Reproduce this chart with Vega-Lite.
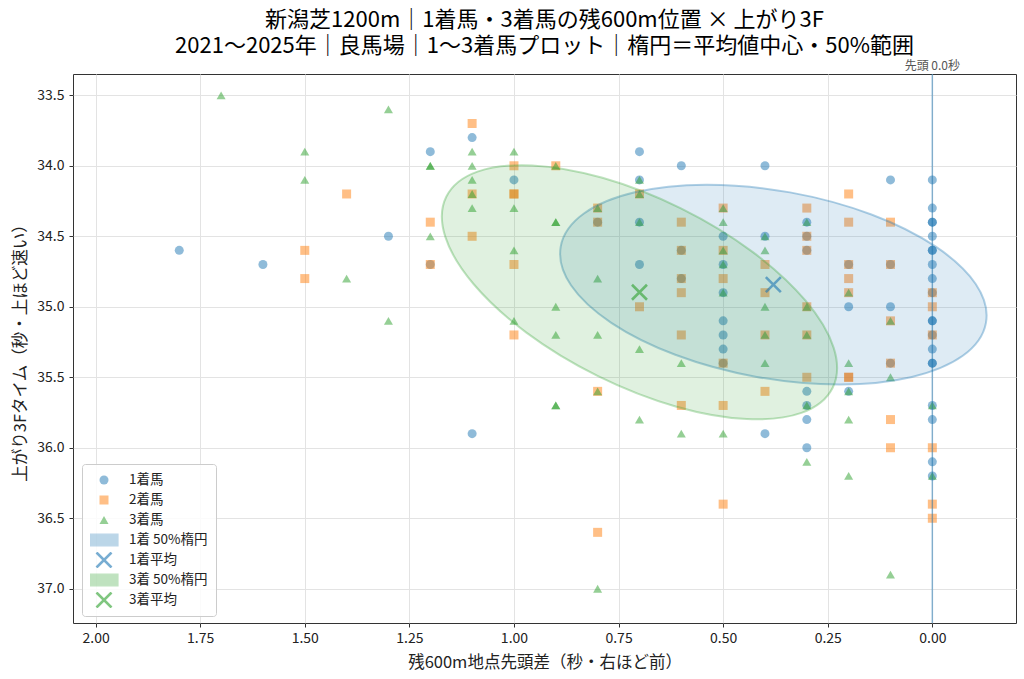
{
  "$schema": "https://vega.github.io/schema/vega-lite/v6.json",
  "width": 943,
  "height": 549,
  "autosize": {"type": "none"},
  "padding": {"left": 73, "top": 74, "right": 8, "bottom": 56},
  "title": {
    "text": ["新潟芝1200m｜1着馬・3着馬の残600m位置 × 上がり3F", "2021〜2025年｜良馬場｜1〜3着馬プロット｜楕円＝平均値中心・50%範囲"],
    "font": "Noto Sans CJK JP",
    "fontSize": 22,
    "fontWeight": "normal",
    "color": "#000000",
    "anchor": "middle",
    "lineHeight": 26,
    "offset": 2
  },
  "config": {
    "font": "Noto Sans CJK JP",
    "view": {"stroke": "#333333", "strokeWidth": 1},
    "axis": {
      "labelFont": "Noto Sans CJK JP",
      "titleFont": "Noto Sans CJK JP",
      "labelFontSize": 14,
      "titleFontSize": 16.5,
      "titleFontWeight": "normal",
      "labelColor": "#222222",
      "titleColor": "#222222",
      "tickColor": "#333333",
      "tickSize": 4,
      "domain": false,
      "gridColor": "#e3e3e3",
      "gridWidth": 1
    },
    "legend": {
      "labelFont": "Noto Sans CJK JP",
      "labelFontSize": 13.5,
      "labelColor": "#222222"
    }
  },
  "datasets": {
    "pts": [
      {"x": 1.8, "y": 34.6, "series": "1着馬"}, {"x": 1.6, "y": 34.7, "series": "1着馬"}, {"x": 1.3, "y": 34.5, "series": "1着馬"},
      {"x": 1.2, "y": 33.9, "series": "1着馬"}, {"x": 1.2, "y": 34.7, "series": "1着馬"}, {"x": 1.1, "y": 33.8, "series": "1着馬"},
      {"x": 1.1, "y": 35.9, "series": "1着馬"}, {"x": 1.0, "y": 34.1, "series": "1着馬"}, {"x": 0.8, "y": 34.4, "series": "1着馬"},
      {"x": 0.7, "y": 33.9, "series": "1着馬"}, {"x": 0.7, "y": 34.1, "series": "1着馬"}, {"x": 0.7, "y": 34.4, "series": "1着馬"},
      {"x": 0.7, "y": 34.7, "series": "1着馬"}, {"x": 0.6, "y": 34.0, "series": "1着馬"}, {"x": 0.6, "y": 34.6, "series": "1着馬"},
      {"x": 0.6, "y": 34.8, "series": "1着馬"}, {"x": 0.5, "y": 34.5, "series": "1着馬"}, {"x": 0.5, "y": 34.7, "series": "1着馬"},
      {"x": 0.5, "y": 34.9, "series": "1着馬"}, {"x": 0.5, "y": 35.1, "series": "1着馬"}, {"x": 0.5, "y": 35.2, "series": "1着馬"},
      {"x": 0.5, "y": 35.3, "series": "1着馬"}, {"x": 0.5, "y": 35.4, "series": "1着馬"}, {"x": 0.4, "y": 34.0, "series": "1着馬"},
      {"x": 0.4, "y": 34.5, "series": "1着馬"}, {"x": 0.4, "y": 35.9, "series": "1着馬"}, {"x": 0.3, "y": 34.4, "series": "1着馬"},
      {"x": 0.3, "y": 34.5, "series": "1着馬"}, {"x": 0.3, "y": 34.6, "series": "1着馬"}, {"x": 0.3, "y": 35.6, "series": "1着馬"},
      {"x": 0.3, "y": 35.7, "series": "1着馬"}, {"x": 0.3, "y": 35.8, "series": "1着馬"}, {"x": 0.3, "y": 36.0, "series": "1着馬"},
      {"x": 0.2, "y": 34.7, "series": "1着馬"}, {"x": 0.2, "y": 35.0, "series": "1着馬"}, {"x": 0.2, "y": 35.6, "series": "1着馬"},
      {"x": 0.1, "y": 34.1, "series": "1着馬"}, {"x": 0.1, "y": 34.7, "series": "1着馬"}, {"x": 0.1, "y": 35.0, "series": "1着馬"},
      {"x": 0.1, "y": 35.4, "series": "1着馬"}, {"x": 0.0, "y": 34.1, "series": "1着馬"}, {"x": 0.0, "y": 34.3, "series": "1着馬"},
      {"x": 0.0, "y": 34.4, "series": "1着馬"}, {"x": 0.0, "y": 34.4, "series": "1着馬"}, {"x": 0.0, "y": 34.5, "series": "1着馬"},
      {"x": 0.0, "y": 34.6, "series": "1着馬"}, {"x": 0.0, "y": 34.6, "series": "1着馬"}, {"x": 0.0, "y": 34.7, "series": "1着馬"},
      {"x": 0.0, "y": 34.8, "series": "1着馬"}, {"x": 0.0, "y": 34.9, "series": "1着馬"}, {"x": 0.0, "y": 35.1, "series": "1着馬"},
      {"x": 0.0, "y": 35.1, "series": "1着馬"}, {"x": 0.0, "y": 35.2, "series": "1着馬"}, {"x": 0.0, "y": 35.3, "series": "1着馬"},
      {"x": 0.0, "y": 35.4, "series": "1着馬"}, {"x": 0.0, "y": 35.4, "series": "1着馬"}, {"x": 0.0, "y": 35.7, "series": "1着馬"},
      {"x": 0.0, "y": 35.8, "series": "1着馬"}, {"x": 0.0, "y": 36.1, "series": "1着馬"}, {"x": 0.0, "y": 36.2, "series": "1着馬"},
      {"x": 1.5, "y": 34.6, "series": "2着馬"}, {"x": 1.5, "y": 34.8, "series": "2着馬"}, {"x": 1.4, "y": 34.2, "series": "2着馬"},
      {"x": 1.2, "y": 34.4, "series": "2着馬"}, {"x": 1.2, "y": 34.7, "series": "2着馬"}, {"x": 1.1, "y": 33.7, "series": "2着馬"},
      {"x": 1.1, "y": 34.2, "series": "2着馬"}, {"x": 1.1, "y": 34.5, "series": "2着馬"}, {"x": 1.0, "y": 34.0, "series": "2着馬"},
      {"x": 1.0, "y": 34.2, "series": "2着馬"}, {"x": 1.0, "y": 34.2, "series": "2着馬"}, {"x": 1.0, "y": 34.7, "series": "2着馬"},
      {"x": 1.0, "y": 35.2, "series": "2着馬"}, {"x": 0.9, "y": 34.0, "series": "2着馬"}, {"x": 0.8, "y": 34.3, "series": "2着馬"},
      {"x": 0.8, "y": 34.4, "series": "2着馬"}, {"x": 0.8, "y": 35.6, "series": "2着馬"}, {"x": 0.8, "y": 36.6, "series": "2着馬"},
      {"x": 0.7, "y": 34.2, "series": "2着馬"}, {"x": 0.7, "y": 35.0, "series": "2着馬"}, {"x": 0.6, "y": 34.4, "series": "2着馬"},
      {"x": 0.6, "y": 34.6, "series": "2着馬"}, {"x": 0.6, "y": 34.8, "series": "2着馬"}, {"x": 0.6, "y": 34.9, "series": "2着馬"},
      {"x": 0.6, "y": 35.2, "series": "2着馬"}, {"x": 0.6, "y": 35.7, "series": "2着馬"}, {"x": 0.5, "y": 34.3, "series": "2着馬"},
      {"x": 0.5, "y": 34.6, "series": "2着馬"}, {"x": 0.5, "y": 34.8, "series": "2着馬"}, {"x": 0.5, "y": 35.4, "series": "2着馬"},
      {"x": 0.5, "y": 35.7, "series": "2着馬"}, {"x": 0.5, "y": 36.4, "series": "2着馬"}, {"x": 0.4, "y": 34.7, "series": "2着馬"},
      {"x": 0.4, "y": 34.9, "series": "2着馬"}, {"x": 0.4, "y": 35.2, "series": "2着馬"}, {"x": 0.4, "y": 35.6, "series": "2着馬"},
      {"x": 0.3, "y": 34.3, "series": "2着馬"}, {"x": 0.3, "y": 34.5, "series": "2着馬"}, {"x": 0.3, "y": 34.6, "series": "2着馬"},
      {"x": 0.3, "y": 35.0, "series": "2着馬"}, {"x": 0.3, "y": 35.2, "series": "2着馬"}, {"x": 0.3, "y": 35.5, "series": "2着馬"},
      {"x": 0.2, "y": 34.2, "series": "2着馬"}, {"x": 0.2, "y": 34.4, "series": "2着馬"}, {"x": 0.2, "y": 34.7, "series": "2着馬"},
      {"x": 0.2, "y": 34.8, "series": "2着馬"}, {"x": 0.2, "y": 34.9, "series": "2着馬"}, {"x": 0.2, "y": 35.5, "series": "2着馬"},
      {"x": 0.2, "y": 35.5, "series": "2着馬"}, {"x": 0.1, "y": 34.4, "series": "2着馬"}, {"x": 0.1, "y": 34.7, "series": "2着馬"},
      {"x": 0.1, "y": 35.1, "series": "2着馬"}, {"x": 0.1, "y": 35.4, "series": "2着馬"}, {"x": 0.1, "y": 35.8, "series": "2着馬"},
      {"x": 0.1, "y": 36.0, "series": "2着馬"}, {"x": 0.0, "y": 34.9, "series": "2着馬"}, {"x": 0.0, "y": 35.0, "series": "2着馬"},
      {"x": 0.0, "y": 35.2, "series": "2着馬"}, {"x": 0.0, "y": 36.0, "series": "2着馬"}, {"x": 0.0, "y": 36.4, "series": "2着馬"},
      {"x": 0.0, "y": 36.5, "series": "2着馬"},
      {"x": 1.7, "y": 33.5, "series": "3着馬"}, {"x": 1.5, "y": 33.9, "series": "3着馬"}, {"x": 1.5, "y": 34.1, "series": "3着馬"},
      {"x": 1.4, "y": 34.8, "series": "3着馬"}, {"x": 1.3, "y": 33.6, "series": "3着馬"}, {"x": 1.3, "y": 35.1, "series": "3着馬"},
      {"x": 1.2, "y": 34.0, "series": "3着馬"}, {"x": 1.2, "y": 34.0, "series": "3着馬"}, {"x": 1.2, "y": 34.5, "series": "3着馬"},
      {"x": 1.1, "y": 33.9, "series": "3着馬"}, {"x": 1.1, "y": 34.0, "series": "3着馬"}, {"x": 1.1, "y": 34.1, "series": "3着馬"},
      {"x": 1.1, "y": 34.2, "series": "3着馬"}, {"x": 1.1, "y": 34.3, "series": "3着馬"}, {"x": 1.0, "y": 33.9, "series": "3着馬"},
      {"x": 1.0, "y": 34.3, "series": "3着馬"}, {"x": 1.0, "y": 34.6, "series": "3着馬"}, {"x": 1.0, "y": 35.1, "series": "3着馬"},
      {"x": 0.9, "y": 34.0, "series": "3着馬"}, {"x": 0.9, "y": 34.4, "series": "3着馬"}, {"x": 0.9, "y": 34.4, "series": "3着馬"},
      {"x": 0.9, "y": 35.0, "series": "3着馬"}, {"x": 0.9, "y": 35.2, "series": "3着馬"}, {"x": 0.9, "y": 35.7, "series": "3着馬"},
      {"x": 0.9, "y": 35.7, "series": "3着馬"}, {"x": 0.8, "y": 34.3, "series": "3着馬"}, {"x": 0.8, "y": 34.8, "series": "3着馬"},
      {"x": 0.8, "y": 35.2, "series": "3着馬"}, {"x": 0.8, "y": 35.6, "series": "3着馬"}, {"x": 0.8, "y": 37.0, "series": "3着馬"},
      {"x": 0.7, "y": 34.1, "series": "3着馬"}, {"x": 0.7, "y": 34.2, "series": "3着馬"}, {"x": 0.7, "y": 34.4, "series": "3着馬"},
      {"x": 0.7, "y": 35.3, "series": "3着馬"}, {"x": 0.7, "y": 35.8, "series": "3着馬"}, {"x": 0.6, "y": 35.4, "series": "3着馬"},
      {"x": 0.6, "y": 35.9, "series": "3着馬"}, {"x": 0.5, "y": 34.3, "series": "3着馬"}, {"x": 0.5, "y": 34.4, "series": "3着馬"},
      {"x": 0.5, "y": 34.6, "series": "3着馬"}, {"x": 0.5, "y": 34.7, "series": "3着馬"}, {"x": 0.5, "y": 34.9, "series": "3着馬"},
      {"x": 0.5, "y": 35.9, "series": "3着馬"}, {"x": 0.4, "y": 34.5, "series": "3着馬"}, {"x": 0.4, "y": 34.6, "series": "3着馬"},
      {"x": 0.4, "y": 35.0, "series": "3着馬"}, {"x": 0.4, "y": 35.2, "series": "3着馬"}, {"x": 0.4, "y": 35.4, "series": "3着馬"},
      {"x": 0.3, "y": 34.4, "series": "3着馬"}, {"x": 0.3, "y": 35.0, "series": "3着馬"}, {"x": 0.3, "y": 35.2, "series": "3着馬"},
      {"x": 0.3, "y": 35.7, "series": "3着馬"}, {"x": 0.3, "y": 36.1, "series": "3着馬"}, {"x": 0.2, "y": 34.9, "series": "3着馬"},
      {"x": 0.2, "y": 35.4, "series": "3着馬"}, {"x": 0.2, "y": 35.6, "series": "3着馬"}, {"x": 0.2, "y": 35.8, "series": "3着馬"},
      {"x": 0.2, "y": 36.2, "series": "3着馬"}, {"x": 0.1, "y": 35.1, "series": "3着馬"}, {"x": 0.1, "y": 35.5, "series": "3着馬"},
      {"x": 0.1, "y": 36.9, "series": "3着馬"}, {"x": 0.0, "y": 35.7, "series": "3着馬"}, {"x": 0.0, "y": 36.2, "series": "3着馬"}
    ],
    "ell": [
      {"x": 0.380, "y": 34.843, "series": "1着 50%楕円"},
      {"x": 0.700, "y": 34.897, "series": "3着 50%楕円"}
    ],
    "means": [
      {"x": 0.380, "y": 34.843, "series": "1着平均"},
      {"x": 0.700, "y": 34.897, "series": "3着平均"}
    ],
    "ref": [
      {"x": 0, "y": 33.349, "label": "先頭 0.0秒"}
    ]
  },
  "layer": [
    {
      "data": {"name": "pts"},
      "mark": {"type": "point", "filled": true},
      "encoding": {
        "x": {
          "field": "x", "type": "quantitative",
          "scale": {"domain": [-0.2, 2.054], "reverse": true, "nice": false, "zero": false},
          "axis": {
            "title": "残600m地点先頭差（秒・右ほど前）",
            "values": [0, 0.25, 0.5, 0.75, 1, 1.25, 1.5, 1.75, 2],
            "format": ".2f",
            "labelPadding": 4,
            "titlePadding": 9
          }
        },
        "y": {
          "field": "y", "type": "quantitative",
          "scale": {"domain": [33.349, 37.243], "reverse": true, "nice": false, "zero": false},
          "axis": {
            "title": "上がり3Fタイム（秒・上ほど速い）",
            "values": [33.5, 34, 34.5, 35, 35.5, 36, 36.5, 37],
            "format": ".1f",
            "labelPadding": 5,
            "titlePadding": 8
          }
        },
        "color": {
          "field": "series", "type": "nominal",
          "scale": {
            "domain": ["1着馬", "2着馬", "3着馬", "1着 50%楕円", "1着平均", "3着 50%楕円", "3着平均"],
            "range": ["#1f77b4", "#ff7f0e", "#2ca02c", "#1f77b4", "#1f77b4", "#2ca02c", "#2ca02c"]
          },
          "legend": {
            "title": null, "orient": "none", "legendX": 9, "legendY": 390,
            "padding": 8, "fillColor": "rgba(255,255,255,0.85)", "strokeColor": "#cccccc", "cornerRadius": 3,
            "clipHeight": 16, "rowPadding": 4, "symbolOffset": -1, "labelOffset": 10
          }
        },
        "shape": {
          "field": "series", "type": "nominal",
          "scale": {
            "domain": ["1着馬", "2着馬", "3着馬", "1着 50%楕円", "1着平均", "3着 50%楕円", "3着平均"],
            "range": ["circle", "square", "triangle-up", "M -1 -0.42 L 1 -0.42 L 1 0.42 L -1 0.42 Z", "M -1 -1 L 1 1 M -1 1 L 1 -1", "M -1 -0.42 L 1 -0.42 L 1 0.42 L -1 0.42 Z", "M -1 -1 L 1 1 M -1 1 L 1 -1"]
          },
          "legend": {
            "title": null, "orient": "none", "legendX": 9, "legendY": 390,
            "padding": 8, "fillColor": "rgba(255,255,255,0.85)", "strokeColor": "#cccccc", "cornerRadius": 3,
            "clipHeight": 16, "rowPadding": 4, "symbolOffset": -1, "labelOffset": 10
          }
        },
        "size": {
          "field": "series", "type": "nominal",
          "scale": {
            "type": "ordinal",
            "domain": ["1着馬", "2着馬", "3着馬", "1着 50%楕円", "1着平均", "3着 50%楕円", "3着平均"],
            "range": [81, 81, 81, 784, 225, 784, 225]
          },
          "legend": {
            "title": null, "orient": "none", "legendX": 9, "legendY": 390,
            "padding": 8, "fillColor": "rgba(255,255,255,0.85)", "strokeColor": "#cccccc", "cornerRadius": 3,
            "clipHeight": 16, "rowPadding": 4, "symbolOffset": -1, "labelOffset": 10
          }
        },
        "opacity": {
          "field": "series", "type": "nominal",
          "scale": {
            "type": "ordinal",
            "domain": ["1着馬", "2着馬", "3着馬", "1着 50%楕円", "1着平均", "3着 50%楕円", "3着平均"],
            "range": [0.5, 0.5, 0.5, 0.3, 0.6, 0.3, 0.6]
          },
          "legend": {
            "title": null, "orient": "none", "legendX": 9, "legendY": 390,
            "padding": 8, "fillColor": "rgba(255,255,255,0.85)", "strokeColor": "#cccccc", "cornerRadius": 3,
            "clipHeight": 16, "rowPadding": 4, "symbolOffset": -1, "labelOffset": 10
          }
        },
        "strokeWidth": {
          "field": "series", "type": "nominal",
          "scale": {
            "type": "ordinal",
            "domain": ["1着馬", "2着馬", "3着馬", "1着 50%楕円", "1着平均", "3着 50%楕円", "3着平均"],
            "range": [0, 0, 0, 1.2, 2.6, 1.2, 2.6]
          },
          "legend": {
            "title": null, "orient": "none", "legendX": 9, "legendY": 390,
            "padding": 8, "fillColor": "rgba(255,255,255,0.85)", "strokeColor": "#cccccc", "cornerRadius": 3,
            "clipHeight": 16, "rowPadding": 4, "symbolOffset": -1, "labelOffset": 10
          }
        }
      }
    },
    {
      "data": {"name": "ref"},
      "mark": {"type": "rule", "color": "#1f77b4", "opacity": 0.5, "strokeWidth": 1.5},
      "encoding": {
        "x": {"field": "x", "type": "quantitative"}
      }
    },
    {
      "data": {"name": "ell"},
      "transform": [{"filter": "datum.series === '1着 50%楕円'"}],
      "mark": {
        "type": "point",
        "shape": "M -1 0 C -1 -0.2397 -0.5523 -0.434 0 -0.434 C 0.5523 -0.434 1 -0.2397 1 0 C 1 0.2397 0.5523 0.434 0 0.434 C -0.5523 0.434 -1 0.2397 -1 0 Z",
        "size": 186624,
        "angle": 10.2,
        "filled": true,
        "opacity": 1,
        "fillOpacity": 0.15,
        "stroke": "#1f77b4",
        "strokeOpacity": 0.35,
        "strokeWidth": 2
      },
      "encoding": {
        "x": {"field": "x", "type": "quantitative"},
        "y": {"field": "y", "type": "quantitative"},
        "color": {
          "field": "series", "type": "nominal",
          "scale": {
            "domain": ["1着馬", "2着馬", "3着馬", "1着 50%楕円", "1着平均", "3着 50%楕円", "3着平均"],
            "range": ["#1f77b4", "#ff7f0e", "#2ca02c", "#1f77b4", "#1f77b4", "#2ca02c", "#2ca02c"]
          }
        }
      }
    },
    {
      "data": {"name": "ell"},
      "transform": [{"filter": "datum.series === '3着 50%楕円'"}],
      "mark": {
        "type": "point",
        "shape": "M -1 0 C -1 -0.2397 -0.5523 -0.434 0 -0.434 C 0.5523 -0.434 1 -0.2397 1 0 C 1 0.2397 0.5523 0.434 0 0.434 C -0.5523 0.434 -1 0.2397 -1 0 Z",
        "size": 185761,
        "angle": 26.3,
        "filled": true,
        "opacity": 1,
        "fillOpacity": 0.15,
        "stroke": "#2ca02c",
        "strokeOpacity": 0.3,
        "strokeWidth": 2
      },
      "encoding": {
        "x": {"field": "x", "type": "quantitative"},
        "y": {"field": "y", "type": "quantitative"},
        "color": {
          "field": "series", "type": "nominal",
          "scale": {
            "domain": ["1着馬", "2着馬", "3着馬", "1着 50%楕円", "1着平均", "3着 50%楕円", "3着平均"],
            "range": ["#1f77b4", "#ff7f0e", "#2ca02c", "#1f77b4", "#1f77b4", "#2ca02c", "#2ca02c"]
          }
        }
      }
    },
    {
      "data": {"name": "means"},
      "mark": {"type": "point", "filled": false},
      "encoding": {
        "x": {"field": "x", "type": "quantitative"},
        "y": {"field": "y", "type": "quantitative"},
        "color": {
          "field": "series", "type": "nominal",
          "scale": {
            "domain": ["1着馬", "2着馬", "3着馬", "1着 50%楕円", "1着平均", "3着 50%楕円", "3着平均"],
            "range": ["#1f77b4", "#ff7f0e", "#2ca02c", "#1f77b4", "#1f77b4", "#2ca02c", "#2ca02c"]
          }
        },
        "shape": {
          "field": "series", "type": "nominal",
          "scale": {
            "domain": ["1着馬", "2着馬", "3着馬", "1着 50%楕円", "1着平均", "3着 50%楕円", "3着平均"],
            "range": ["circle", "square", "triangle-up", "M -1 -0.42 L 1 -0.42 L 1 0.42 L -1 0.42 Z", "M -1 -1 L 1 1 M -1 1 L 1 -1", "M -1 -0.42 L 1 -0.42 L 1 0.42 L -1 0.42 Z", "M -1 -1 L 1 1 M -1 1 L 1 -1"]
          }
        },
        "size": {
          "field": "series", "type": "nominal",
          "scale": {
            "type": "ordinal",
            "domain": ["1着馬", "2着馬", "3着馬", "1着 50%楕円", "1着平均", "3着 50%楕円", "3着平均"],
            "range": [81, 81, 81, 784, 225, 784, 225]
          }
        },
        "opacity": {
          "field": "series", "type": "nominal",
          "scale": {
            "type": "ordinal",
            "domain": ["1着馬", "2着馬", "3着馬", "1着 50%楕円", "1着平均", "3着 50%楕円", "3着平均"],
            "range": [0.5, 0.5, 0.5, 0.3, 0.6, 0.3, 0.6]
          }
        },
        "strokeWidth": {
          "field": "series", "type": "nominal",
          "scale": {
            "type": "ordinal",
            "domain": ["1着馬", "2着馬", "3着馬", "1着 50%楕円", "1着平均", "3着 50%楕円", "3着平均"],
            "range": [0, 0, 0, 1.2, 2.6, 1.2, 2.6]
          }
        }
      }
    },
    {
      "data": {"name": "ref"},
      "mark": {"type": "text", "baseline": "bottom", "align": "center", "dy": -1, "fontSize": 12, "color": "#555555", "font": "Noto Sans CJK JP"},
      "encoding": {
        "x": {"field": "x", "type": "quantitative"},
        "y": {"field": "y", "type": "quantitative"},
        "text": {"field": "label"}
      }
    }
  ]
}
